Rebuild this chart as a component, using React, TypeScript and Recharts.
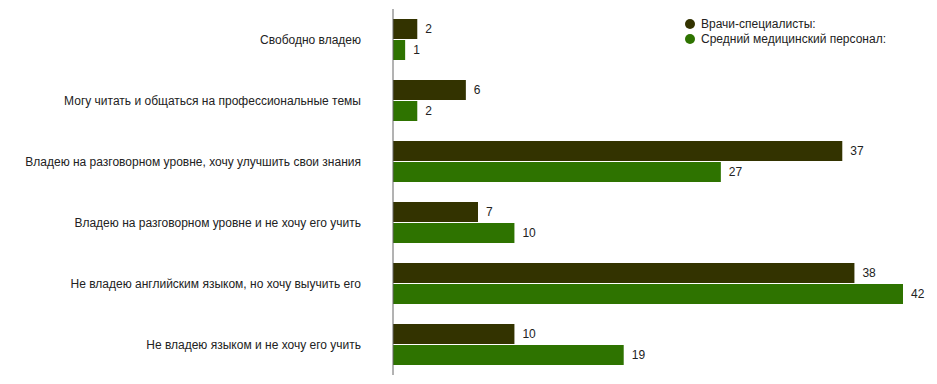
import React from "react";
import { BarChart, Bar, XAxis, YAxis, LabelList } from "recharts";

const categories = [
  "Свободно владею",
  "Могу читать и общаться на профессиональные темы",
  "Владею на разговорном уровне, хочу улучшить свои знания",
  "Владею на разговорном уровне и не хочу его учить",
  "Не владею английским языком, но хочу выучить его",
  "Не владею языком и не хочу его учить",
];
const doctors = [2, 6, 37, 7, 38, 10];
const nurses = [1, 2, 27, 10, 42, 19];
const seriesNames = ["Врачи-специалисты:", "Средний медицинский персонал:"];
const colors = ["#333300", "#2e7300"];

const data = categories.map((c, i) => ({ name: c, a: doctors[i], b: nurses[i] }));

const FONT = "'Liberation Sans', Arial, sans-serif";

const Tick = (props: any) => {
  const { x, y, payload } = props;
  return (
    <text x={x - 24} y={y} dy={4} textAnchor="end" fontSize={12} fill="#222" fontFamily={FONT}>
      {payload.value}
    </text>
  );
};

export default function App() {
  return (
    <div style={{ position: "absolute", left: 0, top: 0, background: "#fff", width: 937, height: 384 }}>
      <BarChart
        width={937}
        height={384}
        data={data}
        layout="vertical"
        margin={{ top: 9, right: 34, bottom: 9, left: 0 }}
        barSize={20}
        barGap={1}
      >
        <XAxis type="number" domain={[0, 42]} hide />
        <YAxis
          type="category"
          dataKey="name"
          width={393}
          axisLine={{ stroke: "#666" }}
          tickLine={false}
          tick={<Tick />}
          interval={0}
        />
        <Bar dataKey="a" name={seriesNames[0]} fill={colors[0]} isAnimationActive={false}>
          <LabelList dataKey="a" position="right" offset={8} fill="#222" fontSize={12} fontFamily={FONT} />
        </Bar>
        <Bar dataKey="b" name={seriesNames[1]} fill={colors[1]} isAnimationActive={false}>
          <LabelList dataKey="b" position="right" offset={8} fill="#222" fontSize={12} fontFamily={FONT} />
        </Bar>
      </BarChart>
      <div
        style={{
          position: "absolute",
          left: 685,
          top: 16,
          fontFamily: FONT,
          fontSize: 12,
          color: "#222",
        }}
      >
        {seriesNames.map((n, i) => (
          <div key={i} style={{ display: "flex", alignItems: "center", height: 15 }}>
            <svg width={10} height={10} style={{ marginRight: 6 }}>
              <circle cx={5} cy={5} r={5} fill={colors[i]} />
            </svg>
            <span>{n}</span>
          </div>
        ))}
      </div>
    </div>
  );
}
